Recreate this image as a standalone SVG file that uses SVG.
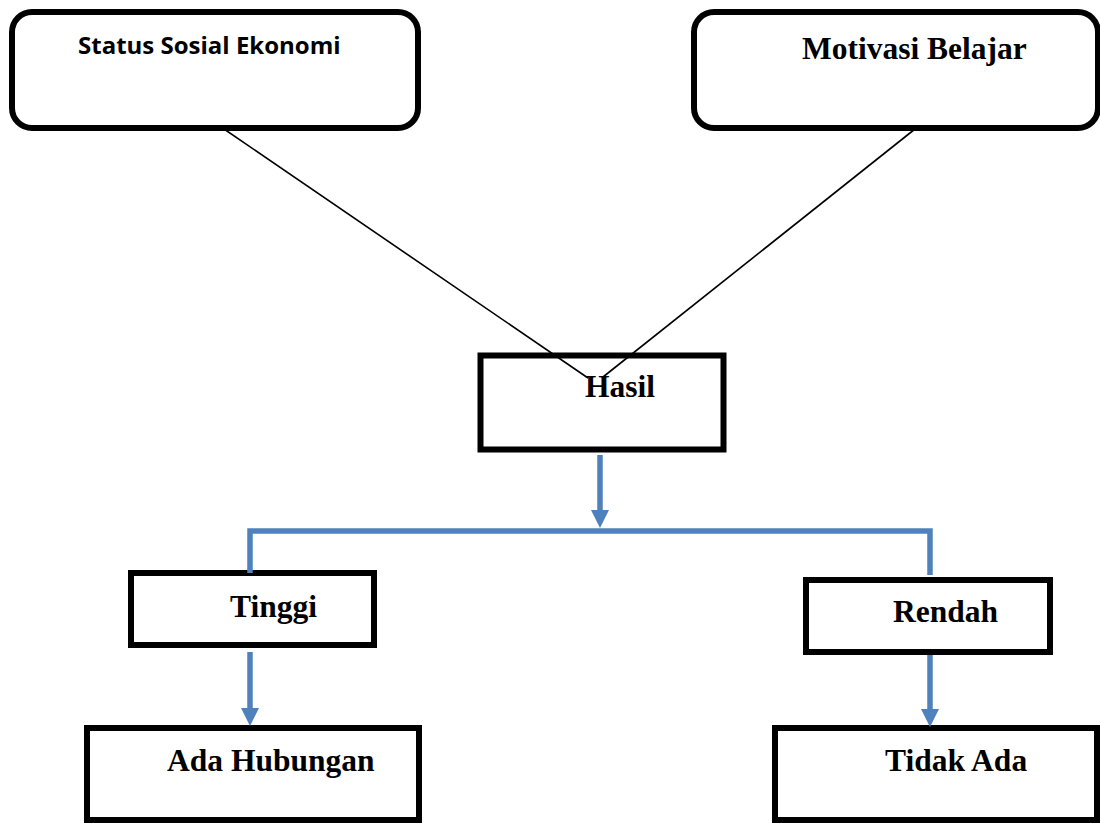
<svg xmlns="http://www.w3.org/2000/svg" width="1100" height="825" viewBox="0 0 1100 825">
<style>
.box{fill:#fff;stroke:#000;stroke-width:6}
.t{font-family:"Liberation Serif","Times New Roman",serif;font-weight:bold;font-size:31.5px;fill:#000}
.s{font-family:"Open Sans","Liberation Sans",sans-serif;font-weight:bold;font-size:24px;fill:#000}
.thin{stroke:#000;stroke-width:1.6;fill:none}
.blue{stroke:#4F81BD;stroke-width:5.5;fill:none}
.head{fill:#4F81BD}
</style>
<rect width="1100" height="825" fill="#fff"/>
<g id="node-status">
<rect class="box" x="12" y="12" width="406" height="116" rx="20"/>
<text class="s" x="78" y="54">Status Sosial Ekonomi</text>
</g>
<g id="node-motivasi">
<rect class="box" x="694" y="12" width="404" height="116" rx="20"/>
<text class="t" x="802" y="59">Motivasi Belajar</text>
</g>
<g id="node-hasil">
<rect class="box" x="480.5" y="355.5" width="243" height="94" stroke-width="7"/>
</g>
<g id="node-tinggi">
<rect class="box" x="131" y="573" width="243" height="72"/>
<text class="t" x="230" y="617">Tinggi</text>
</g>
<g id="node-rendah">
<rect class="box" x="806" y="580" width="244" height="72"/>
<text class="t" x="893" y="622">Rendah</text>
</g>
<g id="node-ada">
<rect class="box" x="87" y="728" width="332" height="92"/>
<text class="t" x="167" y="771">Ada Hubungan</text>
</g>
<g id="node-tidak">
<rect class="box" x="775" y="728" width="322" height="92"/>
<text class="t" x="885" y="771">Tidak Ada</text>
</g>
<g id="connectors">
<line class="thin" x1="224" y1="129" x2="588" y2="378"/>
<line class="thin" x1="915" y1="129" x2="603" y2="377"/>
<line class="blue" x1="600" y1="455" x2="600" y2="512"/>
<polygon class="head" points="591,510 609,510 600,528"/>
<polyline class="blue" points="250,573 250,531 930,531 930,575"/>
<line class="blue" x1="250" y1="652" x2="250" y2="710"/>
<polygon class="head" points="241,708 259,708 250,726"/>
<line class="blue" x1="930" y1="655" x2="930" y2="711"/>
<polygon class="head" points="921,709 939,709 930,727"/>
</g>
<text class="t" x="585" y="397">Hasil</text>
</svg>
